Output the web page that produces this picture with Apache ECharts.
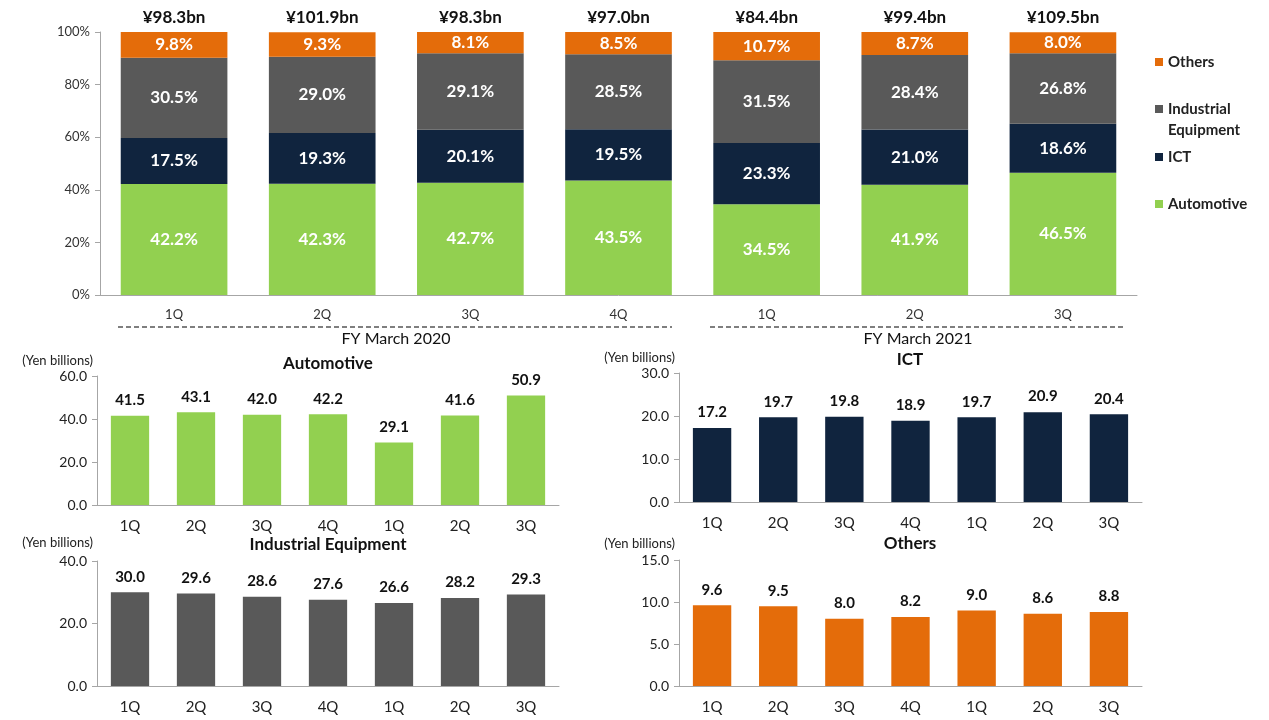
<!DOCTYPE html>
<html>
<head>
<meta charset="utf-8">
<title>Sales by segment</title>
<script src="https://cdn.jsdelivr.net/npm/echarts@6/dist/echarts.min.js"></script>
<style>
  html, body { margin: 0; padding: 0; background: #fff; }
  #main { width: 1269px; height: 720px; }
</style>
</head>
<body>
<div id="main"></div>
<script>
// quarters: FY March 2020 1Q-4Q, FY March 2021 1Q-3Q
const quarters = ['1Q', '2Q', '3Q', '4Q', '1Q', '2Q', '3Q'];
const totals = ['¥98.3bn', '¥101.9bn', '¥98.3bn', '¥97.0bn', '¥84.4bn', '¥99.4bn', '¥109.5bn'];

// share of sales (%)
const shareAuto = [42.2, 42.3, 42.7, 43.5, 34.5, 41.9, 46.5];
const shareICT = [17.5, 19.3, 20.1, 19.5, 23.3, 21.0, 18.6];
const shareInd = [30.5, 29.0, 29.1, 28.5, 31.5, 28.4, 26.8];
const shareOth = [9.8, 9.3, 8.1, 8.5, 10.7, 8.7, 8.0];

// sales (yen billions)
const salesAuto = [41.5, 43.1, 42.0, 42.2, 29.1, 41.6, 50.9];
const salesICT = [17.2, 19.7, 19.8, 18.9, 19.7, 20.9, 20.4];
const salesInd = [30.0, 29.6, 28.6, 27.6, 26.6, 28.2, 29.3];
const salesOth = [9.6, 9.5, 8.0, 8.2, 9.0, 8.6, 8.8];

const C_AUTO = '#92D050';
const C_ICT = '#10243E';
const C_IND = '#595959';
const C_OTH = '#E46C0A';
const AXIS = '#A6A6A6';
const FONT = 'Lato';

// stacked share bar
function shareSeries(name, data, color) {
  return {
    name: name,
    type: 'bar',
    stack: 'share',
    xAxisIndex: 0,
    yAxisIndex: 0,
    barCategoryGap: '28%',
    data: data,
    itemStyle: { color: color },
    label: {
      show: true,
      position: 'inside',
      color: '#fff',
      fontWeight: 'bold',
      fontSize: 17,
      formatter: p => p.value.toFixed(1) + '%'
    }
  };
}

// small segment bar
function salesSeries(name, data, color, idx) {
  return {
    name: name + ' sales',
    type: 'bar',
    xAxisIndex: idx,
    yAxisIndex: idx,
    barWidth: '58%',
    data: data,
    itemStyle: { color: color },
    label: {
      show: true,
      position: 'top',
      distance: 8,
      color: '#111',
      fontWeight: 'bold',
      fontSize: 15,
      formatter: p => p.value.toFixed(1)
    }
  };
}

function smallX(idx) {
  return {
    type: 'category',
    gridIndex: idx,
    data: quarters,
    axisLine: { lineStyle: { color: AXIS } },
    axisTick: { length: 5, lineStyle: { color: AXIS } },
    axisLabel: { color: '#222', fontSize: 15, margin: 14 }
  };
}

function smallY(idx, max, interval, gap) {
  return {
    type: 'value',
    gridIndex: idx,
    min: 0,
    max: max,
    interval: interval,
    name: '(Yen billions)',
    nameLocation: 'end',
    nameGap: gap,
    nameTextStyle: { color: '#222', fontSize: 13, align: 'right', verticalAlign: 'middle', padding: [0, 4, 0, 0] },
    splitLine: { show: false },
    axisLine: { show: true, lineStyle: { color: AXIS } },
    axisTick: { show: true, length: 5, lineStyle: { color: AXIS } },
    axisLabel: { color: '#222', fontSize: 14, margin: 10, formatter: v => v.toFixed(1) }
  };
}

function legendItem(name, top) {
  return {
    data: [name],
    left: 1155,
    top: top,
    padding: 0,
    selectedMode: false,
    icon: 'rect',
    itemWidth: 8,
    itemHeight: 8,
    formatter: n => n === 'Industrial Equipment' ? 'Industrial' : n,
    textStyle: { color: '#222', fontWeight: 'bold', fontSize: 15, lineHeight: 18 }
  };
}

const chart = echarts.init(document.getElementById('main'));
chart.setOption({
  animation: false,
  textStyle: { fontFamily: FONT },
  grid: [
    { left: 100, width: 1037, top: 32, height: 263 },
    { left: 97, width: 462, top: 376, height: 129 },
    { left: 97, width: 462, top: 561, height: 125 },
    { left: 679, width: 463, top: 373, height: 129 },
    { left: 679, width: 463, top: 560, height: 126 }
  ],
  legend: [
    legendItem('Others', 53),
    legendItem('Industrial Equipment', 100),
    legendItem('ICT', 148),
    legendItem('Automotive', 195)
  ],
  xAxis: [
    {
      type: 'category',
      gridIndex: 0,
      data: quarters,
      axisLine: { lineStyle: { color: AXIS } },
      axisTick: { length: 5, lineStyle: { color: AXIS } },
      axisLabel: { color: '#333', fontSize: 13, margin: 13 }
    },
    smallX(1),
    smallX(2),
    smallX(3),
    smallX(4),
    {
      // totals above the stacked bars
      type: 'category',
      gridIndex: 0,
      position: 'top',
      data: totals,
      axisLine: { show: false },
      axisTick: { show: false },
      axisLabel: { color: '#111', fontWeight: 'bold', fontSize: 17, margin: 6 }
    }
  ],
  yAxis: [
    {
      type: 'value',
      gridIndex: 0,
      min: 0,
      max: 100,
      interval: 20,
      splitLine: { show: false },
      axisLine: { show: true, lineStyle: { color: AXIS } },
      axisTick: { show: true, length: 5, lineStyle: { color: AXIS } },
      axisLabel: { color: '#333', fontSize: 13, margin: 10, formatter: '{value}%' }
    },
    smallY(1, 60, 20, 15),
    smallY(2, 40, 20, 18),
    smallY(3, 30, 10, 15),
    smallY(4, 15, 5, 16)
  ],
  series: [
    shareSeries('Automotive', shareAuto, C_AUTO),
    shareSeries('ICT', shareICT, C_ICT),
    shareSeries('Industrial Equipment', shareInd, C_IND),
    shareSeries('Others', shareOth, C_OTH),
    salesSeries('Automotive', salesAuto, C_AUTO, 1),
    salesSeries('Industrial Equipment', salesInd, C_IND, 2),
    salesSeries('ICT', salesICT, C_ICT, 3),
    salesSeries('Others', salesOth, C_OTH, 4)
  ],
  graphic: [
    // fiscal year brackets under the share chart
    { type: 'line', shape: { x1: 118, y1: 327, x2: 672, y2: 327 }, style: { stroke: '#555', lineWidth: 1.5, lineDash: [5, 3] } },
    { type: 'line', shape: { x1: 710, y1: 327, x2: 1126, y2: 327 }, style: { stroke: '#555', lineWidth: 1.5, lineDash: [5, 3] } },
    { type: 'text', style: { x: 396, y: 339, text: 'FY March 2020', align: 'center', verticalAlign: 'middle', font: '16px Lato', fill: '#111' } },
    { type: 'text', style: { x: 918, y: 339, text: 'FY March 2021', align: 'center', verticalAlign: 'middle', font: '16px Lato', fill: '#111' } },
    // second line of legend label
    { type: 'text', style: { x: 1168, y: 130, text: 'Equipment', align: 'left', verticalAlign: 'middle', font: 'bold 15px Lato', fill: '#222' } },
    // small chart titles
    { type: 'text', style: { x: 328, y: 364, text: 'Automotive', align: 'center', verticalAlign: 'middle', font: 'bold 17px Lato', fill: '#111' } },
    { type: 'text', style: { x: 328, y: 545, text: 'Industrial Equipment', align: 'center', verticalAlign: 'middle', font: 'bold 17px Lato', fill: '#111' } },
    { type: 'text', style: { x: 910, y: 360, text: 'ICT', align: 'center', verticalAlign: 'middle', font: 'bold 17px Lato', fill: '#111' } },
    { type: 'text', style: { x: 910, y: 544, text: 'Others', align: 'center', verticalAlign: 'middle', font: 'bold 17px Lato', fill: '#111' } }
  ]
});
</script>
</body>
</html>
